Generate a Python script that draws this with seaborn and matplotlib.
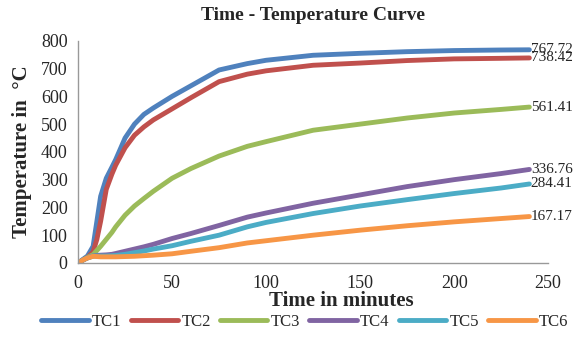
import numpy as np
import pandas as pd
import matplotlib
matplotlib.use("Agg")
import matplotlib.pyplot as plt
import seaborn as sns

# time in minutes
time = [0, 3, 5, 8, 10, 12, 15, 18, 20, 25, 30, 35, 40, 50, 60, 75, 90, 100, 125, 150, 175, 200, 225, 240]

tc1 = [0, 15, 25, 60, 150, 240, 305, 345, 372, 450, 500, 535, 558, 600, 638, 695, 718, 730, 748, 755, 761, 765, 767, 767.72]
tc2 = [0, 12, 20, 40, 85, 150, 265, 320, 352, 415, 460, 490, 515, 555, 595, 653, 680, 692, 712, 720, 729, 735, 737, 738.42]
tc3 = [0, 12, 20, 30, 45, 60, 85, 110, 130, 172, 205, 232, 258, 305, 340, 385, 420, 437, 478, 500, 522, 540, 553, 561.41]
tc4 = [0, 12, 18, 25, 27, 28, 29, 31, 34, 42, 50, 58, 67, 88, 106, 135, 165, 180, 215, 245, 275, 300, 322, 336.76]
tc5 = [0, 12, 18, 25, 25, 25, 25, 26, 27, 31, 37, 43, 50, 62, 78, 100, 130, 146, 178, 205, 228, 250, 270, 284.41]
tc6 = [0, 12, 18, 24, 23, 22, 22, 22, 22, 23, 24, 26, 28, 33, 42, 55, 72, 80, 100, 118, 134, 148, 160, 167.17]

names = ["TC1", "TC2", "TC3", "TC4", "TC5", "TC6"]
colors = ["#4F81BD", "#C0504D", "#9BBB59", "#8064A2", "#4BACC6", "#F79646"]
series = [tc1, tc2, tc3, tc4, tc5, tc6]

df = pd.concat([pd.DataFrame({"time": time, "temp": s, "tc": n}) for n, s in zip(names, series)])

sns.set_style("white")
plt.rcParams["font.family"] = ["Liberation Serif", "DejaVu Serif"]

fig = plt.figure(figsize=(5.74, 3.52), dpi=100)
ax = fig.add_axes([0.136, 0.253, 0.819, 0.631])

sns.lineplot(data=df, x="time", y="temp", hue="tc", palette=colors,
             linewidth=3.5, ax=ax, legend=False, solid_capstyle="round",
             solid_joinstyle="round")

# end values
for s in series:
    ax.text(time[-1] + 0.8, s[-1], f"{s[-1]:.2f}", va="center", ha="left", fontsize=11)

ax.set_xlim(0, 250)
ax.set_ylim(0, 800)
ax.set_xticks(range(0, 251, 50))
ax.set_yticks(range(0, 801, 100))
ax.tick_params(labelsize=13, length=4, color="#999999", direction="out", width=1)
ax.tick_params(axis="x", pad=5)
for sp in ["top", "right"]:
    ax.spines[sp].set_visible(False)
for sp in ["left", "bottom"]:
    ax.spines[sp].set_color("#999999")
    ax.spines[sp].set_linewidth(1)

ax.set_title("Time - Temperature Curve", fontsize=14, fontweight="bold", pad=15)
ax.set_xlabel("Time in minutes", fontsize=15, fontweight="bold")
ax.xaxis.set_label_coords(0.56, -0.125)
ax.set_ylabel("Temperature in  °C", fontsize=15, fontweight="bold", labelpad=6)

handles = [plt.Line2D([0], [0], color=c, lw=3.5, solid_capstyle="round") for c in colors]
fig.legend(handles, names, loc="center", bbox_to_anchor=(0.531, 0.085), ncol=6,
           frameon=False, fontsize=12, handlelength=2.85, columnspacing=0.55,
           handletextpad=0.2, borderpad=0, borderaxespad=0)

fig.savefig("out.png", dpi=100)
